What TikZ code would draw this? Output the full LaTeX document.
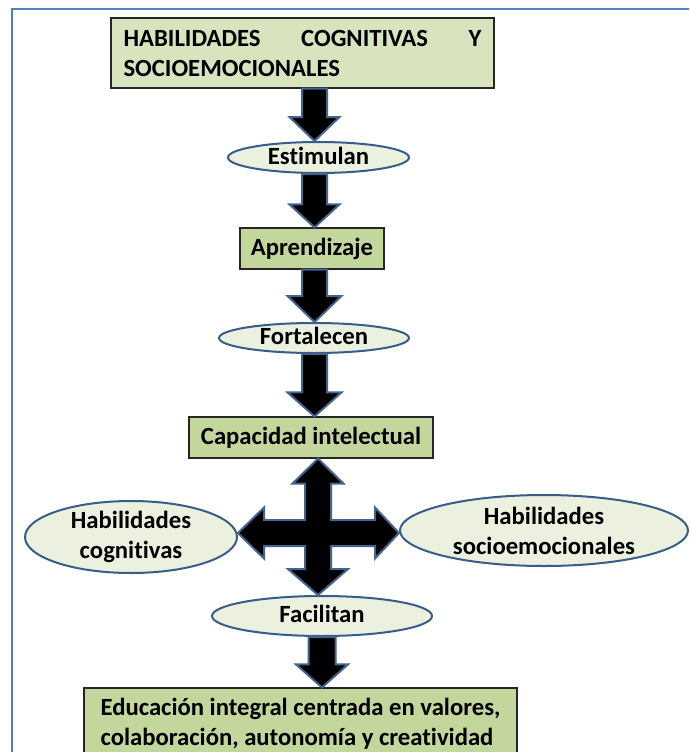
\documentclass[tikz,border=0pt]{standalone}
\usepackage{fontspec}
\setmainfont[Ligatures=NoCommon]{Carlito}
\usetikzlibrary{shapes.geometric,calc}
\definecolor{framec}{HTML}{4F81BD}
\definecolor{boxlight}{HTML}{D7E4BD}
\definecolor{boxgreen}{HTML}{C3D69B}
\definecolor{ovalfill}{HTML}{EBF1DE}
\definecolor{ovaledge}{HTML}{385D8A}
\definecolor{arrowedge}{HTML}{41658F}
% vertical block arrow: #1 source anchor, #2 target anchor, #3 x centre, #4 shaft half width, #5 head half width, #6 head length
\newcommand{\varrow}[6]{\filldraw[blockarrow] let \p1=(#1), \p2=(#2) in
  (#3pt-#4pt,\y1) -- (#3pt-#4pt,\y2+#6pt) -- (#3pt-#5pt,\y2+#6pt) -- (#3pt,\y2)
  -- (#3pt+#5pt,\y2+#6pt) -- (#3pt+#4pt,\y2+#6pt) -- (#3pt+#4pt,\y1) -- cycle;}
\begin{document}
\begin{tikzpicture}[x=1pt,y=-1pt,
  txt/.style={font=\bfseries\fontsize{24.7}{30}\selectfont, text=black},
  greenbox/.style={txt, rectangle, draw=black!85, line width=1.2pt, inner sep=0pt, fill=boxgreen},
  oval/.style={txt, ellipse, draw=ovaledge, line width=2pt, fill=ovalfill, inner xsep=0pt, inner ysep=-1.5pt},
  oneline/.style={text height=18pt, text depth=5pt},
  blockarrow/.style={fill=black, draw=arrowedge, line width=2pt, line join=miter}]
\clip (0,0) rectangle (689,752);
\fill[white] (0,0) rectangle (689,752);
\draw[framec, line width=2pt] (12,760) -- (12,9.5) -- (695,9.5);

\node[greenbox, fill=boxlight, inner xsep=12.5pt, text width=358pt, align=left,
      minimum width=383pt, minimum height=70pt] (top) at (302.5,53)
  {\noindent\makebox[358pt]{HABILIDADES\hfill COGNITIVAS\hfill Y}\\SOCIOEMOCIONALES};
\node[oval, oneline, minimum width=181pt, minimum height=31pt] (est) at (318.5,157.5) {Estimulan};
\node[greenbox, oneline, minimum width=144pt, minimum height=41pt] (apr) at (312,248.5) {Aprendizaje};
\node[oval, oneline, minimum width=190pt, minimum height=30pt] (fort) at (314,338) {Fortalecen};
\node[greenbox, oneline, minimum width=244pt, minimum height=41pt] (cap) at (311,437.5) {Capacidad intelectual};
\node[oval, align=center, inner ysep=-4pt, minimum width=212pt, minimum height=72pt] (hcog) at (131,537) {Habilidades\\cognitivas};
\node[oval, align=center, inner ysep=-2pt, minimum width=288pt, minimum height=71pt] (hsoc) at (544,530.5) {Habilidades\\socioemocionales};
\node[oval, oneline, minimum width=220pt, minimum height=40pt] (fac) at (322,616) {Facilitan};
\node[greenbox, align=left, minimum width=433pt, minimum height=72pt] (bot) at (300.5,724)
  {Educación integral centrada en valores,\\colaboración, autonomía y creatividad};

\varrow{top.south}{est.north}{314.5}{12.5}{25}{24}
\varrow{est.south}{apr.north}{314.5}{12.5}{25}{23}
\varrow{apr.south}{fort.north}{314.5}{12.5}{27}{26}
\varrow{fort.south}{cap.north}{314.5}{12.5}{27}{24}
\varrow{fac.south}{bot.north}{322}{13.5}{26}{23}

% four-way block arrow
\filldraw[blockarrow] let \p1=(cap.south), \p2=(fac.north), \p3=(hcog.east), \p4=(hsoc.west) in
  (318pt,\y1) -- (343.5pt,\y1-25pt) -- (331pt,\y1-25pt) -- (331pt,-520pt)
  -- (\x4-24pt,-520pt) -- (\x4-24pt,-507.5pt) -- (\x4,-533pt) -- (\x4-24pt,-558.5pt) -- (\x4-24pt,-546pt)
  -- (331pt,-546pt) -- (331pt,\y2+26pt) -- (348pt,\y2+26pt) -- (318pt,\y2) -- (288pt,\y2+26pt) -- (305pt,\y2+26pt)
  -- (305pt,-546pt) -- (\x3+26pt,-546pt) -- (\x3+26pt,-558.5pt) -- (\x3,-533pt) -- (\x3+26pt,-507.5pt) -- (\x3+26pt,-520pt)
  -- (305pt,-520pt) -- (305pt,\y1-25pt) -- (292.5pt,\y1-25pt) -- cycle;
\end{tikzpicture}
\end{document}
